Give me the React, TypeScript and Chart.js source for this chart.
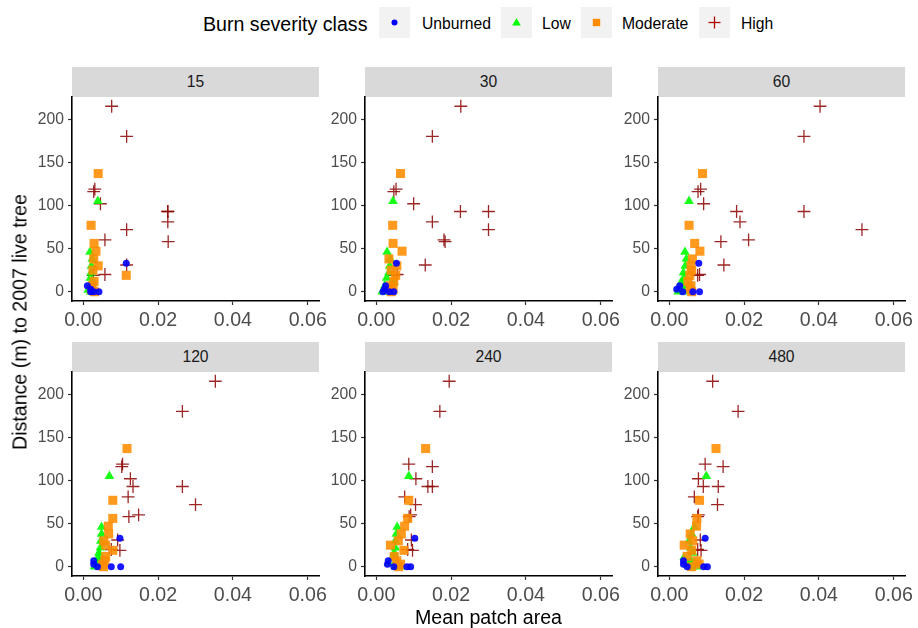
import React, { useEffect, useRef } from "react";
import { Chart, registerables } from "chart.js";

Chart.register(...registerables);

const FONT = '"Liberation Sans", Arial, Helvetica, sans-serif';

// Facet labels (window size) and axis ticks
const facetLabels = ["15", "30", "60", "120", "240", "480"];
const xTickValues = [0, 0.02, 0.04, 0.06];
const yTickValues = [0, 50, 100, 150, 200];

// Distance (m) to 2007 live tree, per burn severity class
const distUnburned = [33, 7, 3, 0, 0, 0];
const distLow = [105, 46, 38, 30, 22, 16, 11, 7, 4, 2, 0, 0];
const distModerate = [137, 77, 56, 47, 38, 30, 25, 19, 12, 7, 3, 0];
const distHigh = [215, 180, 119, 116, 102, 93, 93, 81, 72, 60, 58, 31, 20, 19];

// Mean patch area, window 15
const areaUnburned15 = [0.0115, 0.0011, 0.002, 0.0042, 0.0028, 0.002];
const areaLow15 = [0.0039, 0.0018, 0.0024, 0.0022, 0.0021, 0.0019, 0.0027, 0.0018, 0.0025, 0.0013, 0.002, 0.0028];
const areaModerate15 = [0.004, 0.0021, 0.0029, 0.0034, 0.0028, 0.004, 0.0026, 0.0115, 0.0029, 0.0024, 0.0022, 0.003];
const areaHigh15 = [0.0076, 0.0116, 0.0031, 0.0028, 0.0046, 0.0226, 0.0226, 0.0226, 0.0116, 0.0058, 0.0227, 0.0116, 0.0058, 0.0027];

// Mean patch area, window 30
const areaUnburned30 = [0.0054, 0.0025, 0.0022, 0.0047, 0.0018, 0.0035];
const areaLow30 = [0.0045, 0.0029, 0.0037, 0.0036, 0.0034, 0.0028, 0.0047, 0.0023, 0.0036, 0.0027, 0.0016, 0.003];
const areaModerate30 = [0.0065, 0.0044, 0.0045, 0.0069, 0.0034, 0.0055, 0.004, 0.0052, 0.0047, 0.0038, 0.0045, 0.004];
const areaHigh30 = [0.0226, 0.015, 0.0053, 0.0047, 0.01, 0.0225, 0.03, 0.015, 0.03, 0.0181, 0.0184, 0.0131, 0.0056, 0.0047];

// Mean patch area, window 60
const areaUnburned60 = [0.0079, 0.0028, 0.002, 0.0081, 0.0063, 0.0036];
const areaLow60 = [0.0053, 0.0042, 0.0046, 0.0043, 0.0038, 0.0039, 0.0032, 0.0036, 0.0027, 0.003, 0.0024, 0.004];
const areaModerate60 = [0.0089, 0.0053, 0.0068, 0.0082, 0.0062, 0.0058, 0.006, 0.0055, 0.005, 0.0058, 0.0056, 0.006];
const areaHigh60 = [0.0403, 0.036, 0.0084, 0.0077, 0.0092, 0.018, 0.036, 0.0189, 0.0515, 0.0212, 0.0138, 0.0146, 0.0081, 0.0076];

// Mean patch area, window 120
const areaUnburned120 = [0.0098, 0.0028, 0.0028, 0.01, 0.0075, 0.0038];
const areaLow120 = [0.007, 0.0049, 0.0049, 0.0047, 0.0046, 0.0042, 0.004, 0.0044, 0.0038, 0.0046, 0.003, 0.0045];
const areaModerate120 = [0.0117, 0.0079, 0.0079, 0.0067, 0.0068, 0.0055, 0.006, 0.0079, 0.006, 0.0058, 0.0052, 0.0054];
const areaHigh120 = [0.0353, 0.0265, 0.0105, 0.0103, 0.0126, 0.0133, 0.0265, 0.012, 0.03, 0.0148, 0.0122, 0.0092, 0.0075, 0.0098];

// Mean patch area, window 240
const areaUnburned240 = [0.0103, 0.0032, 0.003, 0.0092, 0.0082, 0.0047];
const areaLow240 = [0.0087, 0.0056, 0.0054, 0.0051, 0.0051, 0.0048, 0.0044, 0.0053, 0.0033, 0.0058, 0.0052, 0.0065];
const areaModerate240 = [0.0132, 0.0087, 0.0084, 0.0076, 0.0067, 0.0059, 0.0038, 0.0074, 0.0048, 0.0055, 0.0065, 0.006];
const areaHigh240 = [0.0195, 0.017, 0.0087, 0.015, 0.0106, 0.0138, 0.015, 0.0076, 0.0105, 0.0092, 0.0088, 0.0094, 0.0084, 0.0097];

// Mean patch area, window 480
const areaUnburned480 = [0.0096, 0.0038, 0.0038, 0.0102, 0.0092, 0.0048];
const areaLow480 = [0.0099, 0.0067, 0.006, 0.0053, 0.0057, 0.0063, 0.004, 0.0058, 0.0068, 0.005, 0.006, 0.0075];
const areaModerate480 = [0.0125, 0.0081, 0.0074, 0.0073, 0.0056, 0.0063, 0.004, 0.006, 0.0048, 0.0074, 0.008, 0.006];
const areaHigh480 = [0.0116, 0.0184, 0.0096, 0.0144, 0.0078, 0.0091, 0.0131, 0.0067, 0.0129, 0.0078, 0.0076, 0.0083, 0.0076, 0.0085];

const areaByFacet = [
  [areaUnburned15, areaLow15, areaModerate15, areaHigh15],
  [areaUnburned30, areaLow30, areaModerate30, areaHigh30],
  [areaUnburned60, areaLow60, areaModerate60, areaHigh60],
  [areaUnburned120, areaLow120, areaModerate120, areaHigh120],
  [areaUnburned240, areaLow240, areaModerate240, areaHigh240],
  [areaUnburned480, areaLow480, areaModerate480, areaHigh480],
];

const COLORS = {
  unburned: "rgba(0,0,255,0.9)",
  low: "rgba(0,255,0,0.9)",
  moderate: "rgba(255,140,0,0.88)",
  high: "rgba(139,0,0,0.85)",
};

// Panel geometry (plot areas)
const COL_LEFT = [72, 365, 658];
const ROW_TOP = [97, 372];
const PLOT_W = 247;
const PLOT_H = 204;
const STRIP_H = 30;
const Y_AXIS_W = 70;
const X_AXIS_H = 36;
const PAD_TOP = 16;
const PAD_RIGHT = 25;

function pts(xs: number[], ys: number[]) {
  return xs.map((x, i) => ({ x, y: ys[i] }));
}

function Panel({ index }: { index: number }) {
  const ref = useRef<HTMLCanvasElement | null>(null);
  const col = index % 3;
  const row = Math.floor(index / 3);
  const left = COL_LEFT[col];
  const top = ROW_TOP[row];

  useEffect(() => {
    if (!ref.current) return;
    const [aU, aL, aM, aH] = areaByFacet[index];
    const chart = new Chart(ref.current, {
      type: "scatter",
      data: {
        datasets: [
          {
            label: "Unburned",
            data: pts(aU, distUnburned),
            pointStyle: "circle",
            pointRadius: 3.5,
            backgroundColor: COLORS.unburned,
            borderWidth: 0,
          },
          {
            label: "Moderate",
            data: pts(aM, distModerate),
            pointStyle: "rect",
            pointRadius: 6.4,
            backgroundColor: COLORS.moderate,
            borderWidth: 0,
          },
          {
            label: "Low",
            data: pts(aL, distLow),
            pointStyle: "triangle",
            pointRadius: 5.6,
            backgroundColor: COLORS.low,
            borderWidth: 0,
          },
          {
            label: "High",
            data: pts(aH, distHigh),
            pointStyle: "cross",
            pointRadius: 6.4,
            borderColor: COLORS.high,
            backgroundColor: COLORS.high,
            borderWidth: 1.3,
          },
        ],
      },
      options: {
        animation: false,
        responsive: false,
        devicePixelRatio: 1,
        events: [],
        layout: { padding: { top: PAD_TOP, right: PAD_RIGHT, left: 0, bottom: 0 } },
        plugins: { legend: { display: false }, tooltip: { enabled: false } },
        scales: {
          x: {
            type: "linear",
            min: -0.003,
            max: 0.063,
            afterBuildTicks: (axis: any) => {
              axis.ticks = xTickValues.map((v) => ({ value: v }));
            },
            afterFit: (scale: any) => {
              scale.height = X_AXIS_H;
            },
            grid: {
              drawOnChartArea: false,
              drawTicks: true,
              tickLength: 4,
              tickColor: "#333333",
              tickWidth: 1.2,
            },
            border: { display: true, color: "#000000", width: 1.6 },
            ticks: {
              color: "#4D4D4D",
              font: { family: FONT, size: 19.6 },
              padding: 4,
              maxRotation: 0,
              autoSkip: false,
              callback: (v: any) => Number(v).toFixed(2),
            },
          },
          y: {
            type: "linear",
            min: -10.75,
            max: 225.75,
            afterBuildTicks: (axis: any) => {
              axis.ticks = yTickValues.map((v) => ({ value: v }));
            },
            afterFit: (scale: any) => {
              scale.width = Y_AXIS_W;
            },
            grid: {
              drawOnChartArea: false,
              drawTicks: true,
              tickLength: 4,
              tickColor: "#333333",
              tickWidth: 1.2,
            },
            border: { display: true, color: "#000000", width: 1.6 },
            ticks: {
              color: "#4D4D4D",
              font: { family: FONT, size: 15.7 },
              padding: 4,
              autoSkip: false,
              callback: (v: any) => String(v),
            },
          },
        },
      },
    } as any);
    return () => chart.destroy();
  }, [index]);

  return (
    <>
      <div
        style={{
          position: "absolute",
          left,
          top: top - STRIP_H,
          width: PLOT_W,
          height: STRIP_H,
          background: "#D9D9D9",
          color: "#1A1A1A",
          fontSize: 15.7,
          display: "flex",
          alignItems: "center",
          justifyContent: "center",
        }}
      >
        {facetLabels[index]}
      </div>
      <canvas
        ref={ref}
        width={Y_AXIS_W + PLOT_W + PAD_RIGHT}
        height={PAD_TOP + PLOT_H + X_AXIS_H}
        style={{
          position: "absolute",
          left: left - Y_AXIS_W,
          top: top - PAD_TOP,
          width: Y_AXIS_W + PLOT_W + PAD_RIGHT,
          height: PAD_TOP + PLOT_H + X_AXIS_H,
        }}
      />
    </>
  );
}

const legendItems = [
  { name: "Unburned", box: 379, text: 422 },
  { name: "Low", box: 501, text: 542 },
  { name: "Moderate", box: 581, text: 622 },
  { name: "High", box: 699, text: 741 },
];

function LegendSymbol({ name }: { name: string }) {
  if (name === "Unburned")
    return (
      <svg width="31" height="31">
        <circle cx="15.5" cy="15.5" r="3" fill="#0000FF" />
      </svg>
    );
  if (name === "Low")
    return (
      <svg width="31" height="31">
        <polygon points="15.5,11 19.8,18.6 11.2,18.6" fill="#00FF00" />
      </svg>
    );
  if (name === "Moderate")
    return (
      <svg width="31" height="31">
        <rect x="11.8" y="11.8" width="7.4" height="7.4" fill="#FF8C00" />
      </svg>
    );
  return (
    <svg width="31" height="31">
      <line x1="9.5" y1="15.5" x2="21.5" y2="15.5" stroke="#B00000" strokeWidth="1.3" />
      <line x1="15.5" y1="9.5" x2="15.5" y2="21.5" stroke="#B00000" strokeWidth="1.3" />
    </svg>
  );
}

export default function App() {
  return (
    <div
      style={{
        position: "absolute",
        left: 0,
        top: 0,
        width: 918,
        height: 628,
        background: "#FFFFFF",
        fontFamily: FONT,
        overflow: "hidden",
      }}
    >
      {/* Legend */}
      <div
        style={{
          position: "absolute",
          left: 203,
          top: 24,
          transform: "translateY(-50%)",
          fontSize: 19.6,
          color: "#000000",
          whiteSpace: "nowrap",
        }}
      >
        Burn severity class
      </div>
      {legendItems.map((it) => (
        <React.Fragment key={it.name}>
          <div
            style={{
              position: "absolute",
              left: it.box,
              top: 7,
              width: 31,
              height: 31,
              background: "#F2F2F2",
            }}
          >
            <LegendSymbol name={it.name} />
          </div>
          <div
            style={{
              position: "absolute",
              left: it.text,
              top: 24,
              transform: "translateY(-50%)",
              fontSize: 15.7,
              color: "#000000",
              whiteSpace: "nowrap",
            }}
          >
            {it.name}
          </div>
        </React.Fragment>
      ))}

      {facetLabels.map((_, i) => (
        <Panel key={i} index={i} />
      ))}

      {/* Axis titles */}
      <div
        style={{
          position: "absolute",
          left: 20,
          top: 321.5,
          transform: "translate(-50%, -50%) rotate(-90deg)",
          fontSize: 19.6,
          color: "#000000",
          whiteSpace: "nowrap",
        }}
      >
        Distance (m) to 2007 live tree
      </div>
      <div
        style={{
          position: "absolute",
          left: 488.5,
          top: 617,
          transform: "translate(-50%, -50%)",
          fontSize: 19.6,
          color: "#000000",
          whiteSpace: "nowrap",
        }}
      >
        Mean patch area
      </div>
    </div>
  );
}
